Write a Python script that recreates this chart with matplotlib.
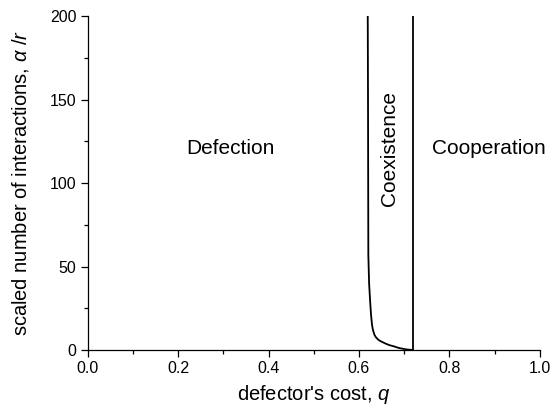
import numpy as np
import matplotlib
matplotlib.use('Agg')
import matplotlib.pyplot as plt
from matplotlib.ticker import MultipleLocator, FormatStrFormatter

plt.rcParams['font.family'] = ['Liberation Sans', 'DejaVu Sans']
plt.rcParams['mathtext.fontset'] = 'custom'
plt.rcParams['mathtext.it'] = 'Liberation Sans:italic'
plt.rcParams['mathtext.rm'] = 'Liberation Sans'

# boundary between defection and coexistence
alpha_curve = [200, 150, 57, 40, 30, 21, 15, 12, 9, 7.5, 6, 5, 4, 3, 2, 1.4, 1, 0.6, 0.3, 0.1, 0]
q_curve = [0.6195, 0.6201, 0.6208, 0.6225, 0.6246, 0.6268, 0.629, 0.631, 0.6345,
           0.638, 0.6435, 0.650, 0.6577, 0.6665, 0.6798, 0.686, 0.6925, 0.700,
           0.707, 0.7153, 0.7197]

# boundary between coexistence and cooperation
q_coop = [0.72, 0.72]
alpha_coop = [0, 200]

# region labels (q, alpha, text, rotation)
regions = [(0.315, 121, 'Defection', 0),
           (0.668, 121, 'Coexistence', 90),
           (0.887, 121, 'Cooperation', 0)]

fig = plt.figure(figsize=(5.57, 4.13), dpi=100)
ax = fig.add_axes([0.1575, 0.1525, 0.8115, 0.8085])

ax.plot(q_curve, alpha_curve, 'k-', lw=1.3, solid_joinstyle='round')
ax.plot(q_coop, alpha_coop, 'k-', lw=1.3)

for q, a, txt, rot in regions:
    ax.text(q, a, txt, rotation=rot, ha='center', va='center', fontsize=15)

ax.set_xlim(0, 1)
ax.set_ylim(0, 200)
ax.xaxis.set_major_locator(MultipleLocator(0.2))
ax.xaxis.set_minor_locator(MultipleLocator(0.1))
ax.yaxis.set_major_locator(MultipleLocator(50))
ax.yaxis.set_minor_locator(MultipleLocator(25))
ax.xaxis.set_major_formatter(FormatStrFormatter('%.1f'))

ax.spines['top'].set_visible(False)
ax.spines['right'].set_visible(False)
for s in ['left', 'bottom']:
    ax.spines[s].set_linewidth(0.9)

ax.tick_params(which='major', direction='out', length=5, width=0.9, labelsize=11.5, pad=3)
ax.tick_params(which='minor', direction='out', length=3, width=0.9)

ax.set_xlabel("defector's cost, $q$", fontsize=14.5, labelpad=5)
ax.set_ylabel(r"scaled number of interactions, $\alpha$ /$r$", fontsize=14.5, labelpad=14)

plt.savefig('out.png', dpi=100)
